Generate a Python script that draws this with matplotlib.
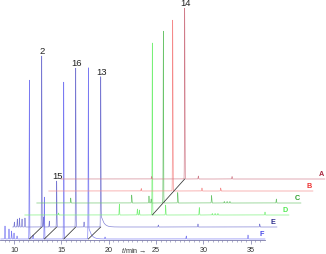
import numpy as np
import matplotlib
matplotlib.use('Agg')
import matplotlib.pyplot as plt
from matplotlib.ticker import FixedLocator

plt.rcParams['font.family'] = ['Liberation Sans', 'DejaVu Sans']
plt.rcParams['mathtext.fontset'] = 'custom'
plt.rcParams['mathtext.it'] = 'Liberation Sans:italic'
plt.rcParams['mathtext.rm'] = 'Liberation Sans'

# traces, bottom to top
names = ['F', 'E', 'D', 'C', 'B', 'A']
line_colors = ['#7a7af2', '#7878d2', '#78f078', '#6cc46c', '#f58a8a', '#d07c8a']
label_colors = ['#4848e8', '#2c2c8c', '#4ee84e', '#2e9e2e', '#ee3030', '#a82840']

# retention times (min, own run) and peak heights (a.u.)
F_rt = [9.05, 9.47, 9.74, 10.00, 10.32, 11.62, 12.01, 13.20, 15.25, 17.85, 19.61, 28.19, 34.71]
F_h = [13, 10, 8, 6, 3, 159, 4, 42, 157, 171, 2, 3, 4]
E_rt = [8.77, 9.08, 9.31, 9.58, 9.89, 11.66, 11.85, 12.46, 13.24, 15.25, 16.13, 17.89, 23.97, 28.16, 34.68]
E_h = [5, 8, 9, 8, 9, 171, 10, 6, 46, 159, 5, 150, 2, 3, 3]
D_rt = [12.17, 18.59, 20.49, 20.70, 22.07, 23.48, 27.03, 28.40, 28.70, 29.00, 33.97]
D_h = [2, 11, 6, 5, 172, 10, 7.5, 1.5, 1.5, 1.5, 3]
C_rt = [12.19, 18.63, 20.45, 20.68, 21.97, 23.49, 27.06, 28.40, 28.70, 29.00, 33.90]
C_h = [5, 8, 7, 4, 172, 10.5, 7.5, 1.5, 1.5, 1.5, 4]
B_rt = [18.37, 21.69, 24.78, 26.76]
B_h = [2.5, 171, 3, 3]
A_rt = [18.20, 21.69, 23.13, 26.69]
A_h = [2.5, 171, 3, 2.5]
peaks = {'F': (F_rt, F_h), 'E': (E_rt, E_h), 'D': (D_rt, D_h),
         'C': (C_rt, C_h), 'B': (B_rt, B_h), 'A': (A_rt, A_h)}

# tailing peaks
tail_rt = {'F': 17.85, 'E': 17.89}
tail_h = 14

peak_labels = [('E', 11.66, '2'), ('E', 13.24, '15'), ('E', 15.25, '16'),
               ('E', 17.89, '13'), ('A', 21.69, '14')]
links = [(('F', 11.62), ('E', 11.66)), (('F', 13.20), ('E', 13.24)),
         (('F', 15.25), ('E', 15.25)), (('F', 17.85), ('E', 17.89)),
         (('D', 22.07), ('A', 21.69))]

run_start, run_end = 8.6, 36.5
dx = 1.267   # min shift per trace
dy = 12.0    # vertical shift per trace
x0 = 10 - 14 / 9.47

fig = plt.figure(figsize=(3.26, 2.55), dpi=100)
ax = fig.add_axes([0, 14 / 255, 1, 241 / 255])

t = np.arange(run_start, run_end, 0.003)
sig = 0.022
for k, name in enumerate(names):
    rts, hs = peaks[name]
    y = np.zeros_like(t)
    for rt, h in zip(rts, hs):
        y += h * np.exp(-0.5 * ((t - rt) / sig) ** 2)
    if name in tail_rt:
        r0 = tail_rt[name]
        m = t > r0
        y[m] += tail_h * np.exp(-(t[m] - r0) / 0.28) * (1 - np.exp(-(t[m] - r0) / 0.03))
    ax.plot(t + k * dx, y + k * dy, color=line_colors[k], lw=0.45, zorder=3 + k)
    ax.text(run_end + k * dx - 0.12, k * dy + 1.6, name, color=label_colors[k],
            fontsize=5.2, fontweight='bold', ha='right', va='bottom')

idx = {n: i for i, n in enumerate(names)}
for name, rt, txt in peak_labels:
    k = idx[name]
    h = peaks[name][1][peaks[name][0].index(rt)]
    ax.text(rt + k * dx + 0.06, h + k * dy + 2.8, txt, fontsize=6.8,
            ha='center', va='baseline', color='#222222')

for (n1, r1), (n2, r2) in links:
    k1, k2 = idx[n1], idx[n2]
    ax.plot([r1 + k1 * dx, r2 + k2 * dx], [k1 * dy, k2 * dy],
            color='#333333', lw=0.55, zorder=20)

ax.set_xlim(x0, 10 + 312 / 9.47)
ax.set_ylim(-1, 240)
for s in ['top', 'right', 'left']:
    ax.spines[s].set_visible(False)
ax.spines['bottom'].set_bounds(x0, run_end)
ax.spines['bottom'].set_color('#7878a8')
ax.spines['bottom'].set_linewidth(0.6)
ax.set_yticks([])
ax.set_xticks([10, 15, 20, 25, 30, 35])
ax.xaxis.set_minor_locator(FixedLocator(np.arange(9.0, run_end, 0.5)))
ax.tick_params(axis='x', which='major', length=3, width=0.5, color='#7878a8',
               labelsize=5.2, pad=1, labelcolor='#333333')
ax.tick_params(axis='x', which='minor', length=1.5, width=0.4, color='#7878a8')
ax.set_facecolor('none')

fig.text(134 / 326, 1 - 251 / 255, r'$t$/min →', fontsize=5.2, ha='center',
         va='center', color='#333333')

fig.savefig('out.png', dpi=100)
